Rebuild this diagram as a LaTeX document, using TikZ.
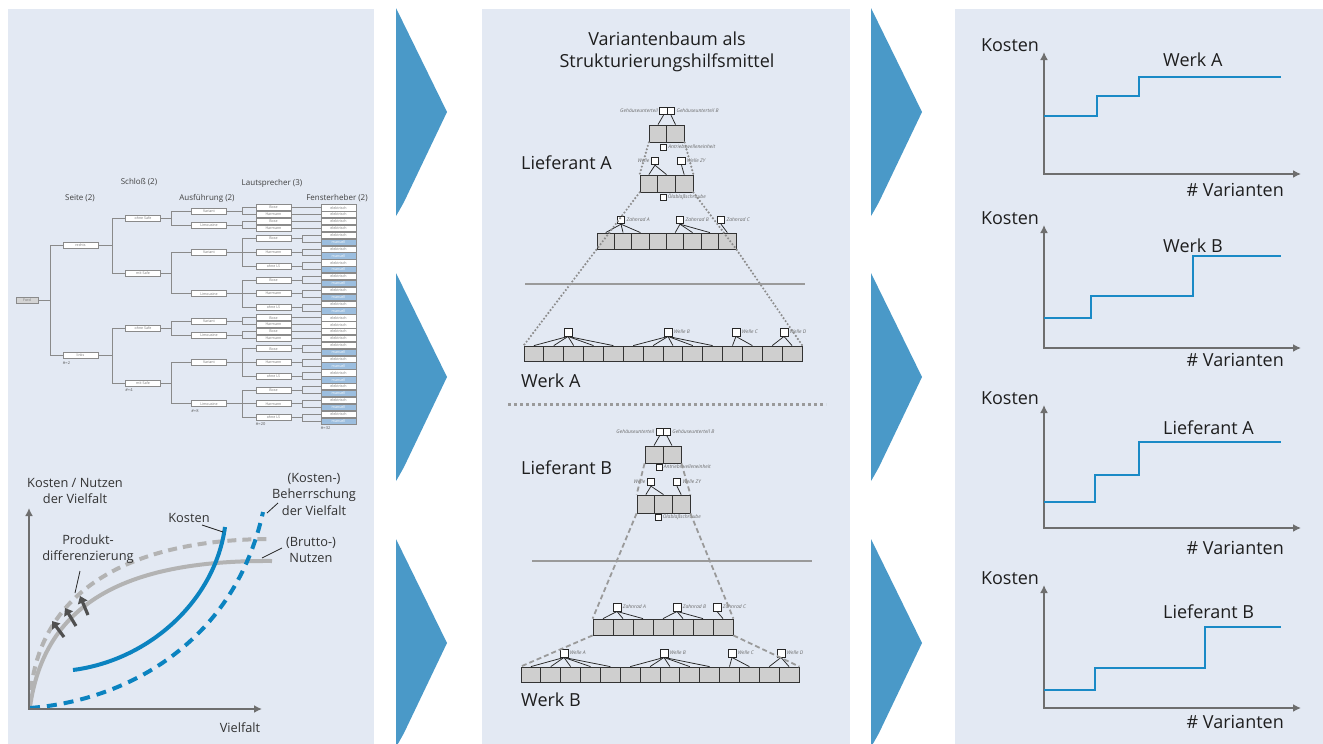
\documentclass[tikz,border=0pt]{standalone}
\usepackage{fontspec}
\setmainfont{Open Sans}
\usetikzlibrary{arrows.meta}
\definecolor{panel}{HTML}{E3E9F3}
\definecolor{arrowblue}{HTML}{4A99C8}
\definecolor{lineblue}{HTML}{1A8AC6}
\definecolor{curveblue}{HTML}{0B83C0}
\definecolor{axisgray}{HTML}{6E6E6E}
\definecolor{lightcurve}{HTML}{B3B3B3}
\definecolor{treeline}{HTML}{8A8A8A}
\definecolor{treetext}{HTML}{767676}
\definecolor{manuellc}{HTML}{9CBEDF}
\definecolor{fordgray}{HTML}{D4D4D4}
\definecolor{boxgray}{HTML}{CFCFCF}
\definecolor{sepgray}{HTML}{9A9A9A}
\definecolor{dotgray}{HTML}{8C8C8C}
\definecolor{txt}{HTML}{1E1E1E}
\definecolor{lbltxt}{HTML}{6A6A6A}
\definecolor{arrowdark}{HTML}{505050}
\newcommand{\rowY}[1]{207.7+(#1-1)*6.88}
\begin{document}
\begin{tikzpicture}[x=1pt,y=-1pt,
  tb/.style={draw=treeline, fill=white, line width=0.6pt, minimum width=35pt, minimum height=6pt, inner sep=0pt, font=\fontsize{3.6}{4}\selectfont, text=treetext},
  fhE/.style={tb, minimum height=6.3pt},
  fhM/.style={tb, fill=manuellc, text=white, minimum height=6.3pt},
  tl/.style={draw=treeline, line width=0.8pt},
  hdr/.style={font=\fontsize{8}{9}\selectfont, text=black!75, inner sep=0pt},
  cnt/.style={font=\fontsize{4}{5}\selectfont, text=black!65, inner sep=0pt, anchor=north west},
  big/.style={font=\fontsize{18}{21.5}\selectfont, text=txt, inner sep=0pt},
  gtxt/.style={font=\fontsize{12.8}{16.5}\selectfont, text=black!80, inner sep=0pt, align=center},
  sbox/.style={draw=black!85, fill=white, line width=0.9pt, minimum size=7.5pt, inner sep=0pt},
  mbox/.style={sbox, minimum size=6pt},
  gbox/.style={draw=black!80, fill=boxgray, line width=0.8pt, inner sep=0pt},
  lbl/.style={font=\fontsize{5}{6}\selectfont\itshape, text=lbltxt, inner sep=1.2pt},
  fan/.style={draw=black!85, line width=0.75pt},
  dotline/.style={draw=dotgray, line width=2.4pt, dash pattern=on 0pt off 3.6pt, line cap=round},
  dashline/.style={draw=sepgray, line width=1.8pt, dash pattern=on 5pt off 3pt},
  sepline/.style={draw=sepgray, line width=2pt},
  ax/.style={draw=axisgray, line width=2.6pt, {Latex[length=8pt,width=8pt]}-{Latex[length=8pt,width=8pt]}},
  stepline/.style={draw=lineblue, line width=2.4pt},
  leader/.style={draw=black!85, line width=0.8pt},
  push/.style={draw=arrowdark, line width=3.2pt, -{Triangle[length=7pt,width=10pt]}},
]
\useasboundingbox (0,0) rectangle (1323,744);
\fill[white] (0,0) rectangle (1323,744);
% panels
\fill[panel] (8,9) rectangle (374,744);
\fill[panel] (482,9) rectangle (850,744);
\fill[panel] (955,9) rectangle (1323,744);
% big arrows
\foreach \ax in {396,871}{
  \foreach \ay in {8,273,539}{
    \fill[arrowblue] (\ax,\ay) -- ({\ax+51},{\ay+104}) -- ({\ax+8},{\ay+194}) .. controls ({\ax+3},{\ay+203}) .. (\ax,{\ay+208}) -- cycle;
  }
}
% ================= tree (left panel) =================
\node[hdr] (hSeite) at (80,198) {Seite (2)};
\node[hdr] (hSchloss) at (139,182) {Schloß (2)};
\node[hdr] (hAusf) at (207,198) {Ausführung (2)};
\node[hdr] (hLaut) at (272,183) {Lautsprecher (3)};
\node[hdr] (hFenster) at (337,198) {Fensterheber (2)};
\foreach \s/\sn in {0/rechts,1/links}{
  \pgfmathtruncatemacro\off{16*\s}
  \foreach \r in {1,...,16}{
    \pgfmathtruncatemacro\isM{(\r>4)&&(mod(\r,2)==0)}
    \ifnum\isM=1
      \node[fhM] (fh\s-\r) at (338.5,{\rowY{\r+\off}}) {manuell};
    \else
      \node[fhE] (fh\s-\r) at (338.5,{\rowY{\r+\off}}) {elektrisch};
    \fi
  }
  \foreach \j/\nm in {1/Bose,2/Harmann,3/Bose,4/Harmann}{
    \node[tb] (ls\s-\j) at (273.5,{\rowY{\j+\off}}) {\nm};
    \draw[tl] (ls\s-\j) -- (fh\s-\j);
  }
  \foreach \j/\nm in {5/Bose,6/Harmann,7/ohne LS,8/Bose,9/Harmann,10/ohne LS}{
    \pgfmathtruncatemacro\ra{2*\j-5}
    \pgfmathtruncatemacro\rb{2*\j-4}
    \node[tb] (ls\s-\j) at (273.5,{\rowY{\j*2-4.5+\off}}) {\nm};
    \draw[tl] (ls\s-\j.east) -- ++(11,0) |- (fh\s-\ra.west);
    \draw[tl] (ls\s-\j.east) -- ++(11,0) |- (fh\s-\rb.west);
  }
  \node[tb] (a\s-1) at (209,{\rowY{1.5+\off}}) {Variant};
  \node[tb] (a\s-2) at (209,{\rowY{3.5+\off}}) {Limousine};
  \node[tb] (a\s-3) at (209,{\rowY{7.5+\off}}) {Variant};
  \node[tb] (a\s-4) at (209,{\rowY{13.5+\off}}) {Limousine};
  \foreach \p/\c in {1/1,1/2,2/3,2/4,3/5,3/6,3/7,4/8,4/9,4/10}
    \draw[tl] (a\s-\p.east) -- ++(16,0) |- (ls\s-\c.west);
  \node[tb] (sch\s-1) at (143,{\rowY{2.5+\off}}) {ohne Safe};
  \node[tb] (sch\s-2) at (143,{\rowY{10.5+\off}}) {mit Safe};
  \foreach \p/\c in {1/1,1/2,2/3,2/4}
    \draw[tl] (sch\s-\p.east) -- ++(11,0) |- (a\s-\c.west);
  \node[tb] (side\s) at (80.5,{\rowY{6.5+\off}}) {\sn};
  \foreach \c in {1,2} \draw[tl] (side\s.east) -- ++(14,0) |- (sch\s-\c.west);
}
\node[tb, fill=fordgray, minimum width=22pt] (ford) at (27,{\rowY{14.5}}) {Ford};
\draw[tl] (ford.east) -- ++(12,0) |- (side0.west);
\draw[tl] (ford.east) -- ++(12,0) |- (side1.west);
\node[cnt] (c2) at ([yshift=-2pt]side1.south west) {\#=2};
\node[cnt] (c4) at ([yshift=-2pt]sch1-2.south west) {\#=4};
\node[cnt] (c8) at ([yshift=-2pt]a1-4.south west) {\#=8};
\node[cnt] (c20) at ([yshift=-2pt]ls1-10.south west) {\#=20};
\node[cnt] (c32) at ([yshift=-2pt]fh1-16.south west) {\#=32};
% ================= bottom-left graph =================
\draw[lightcurve, line width=4pt] (30,707) .. controls (45,600) and (130,560) .. (272,561);
\draw[lightcurve, line width=4pt, dash pattern=on 9pt off 6pt] (31,690) .. controls (42,590) and (130,540) .. (268,539);
\draw[curveblue, line width=4pt] (73,670) .. controls (150,660) and (215,600) .. (225,527);
\draw[curveblue, line width=4pt, dash pattern=on 10pt off 7pt] (30,708) .. controls (130,700) and (235,640) .. (263,512);
\draw[ax] (29,508) -- (29,709) -- (262,709);
\coordinate (p1a) at (64,637); \coordinate (p1b) at (52,621);
\coordinate (p2a) at (76,626); \coordinate (p2b) at (65,608);
\coordinate (p3a) at (88,615); \coordinate (p3b) at (80,596);
\draw[push] (p1a) -- (p1b);
\draw[push] (p2a) -- (p2b);
\draw[push] (p3a) -- (p3b);
\node[gtxt] (gY) at (75,491) {Kosten / Nutzen\\der Vielfalt};
\node[gtxt] (gProd) at (88,549) {Produkt-\\differenzierung};
\node[gtxt] (gKosten) at (189,518) {Kosten};
\node[gtxt] (gBeh) at (314,494) {(Kosten-)\\Beherrschung\\der Vielfalt};
\node[gtxt] (gBrutto) at (311,550) {(Brutto-)\\Nutzen};
\node[gtxt] (gX) at (240,728) {Vielfalt};
\coordinate (lp1) at (80,571); \coordinate (lp2) at (75,593);
\draw[leader] (lp1) -- (lp2);
\coordinate (lk1) at (202,525); \coordinate (lk2) at (223,532);
\draw[leader] (lk1) -- (lk2);
\coordinate (lb1) at (278,503); \coordinate (lb2) at (267,513);
\draw[leader] (lb1) -- (lb2);
\coordinate (ln1) at (282,548); \coordinate (ln2) at (262,558);
\draw[leader] (ln1) -- (ln2);
% ================= middle panel =================
\node[big, align=center] (title) at (667,52) {Variantenbaum als\\Strukturierungshilfsmittel};
\node[big, anchor=west] (tLA) at (521,163) {Lieferant A};
\node[big, anchor=west] (tWA) at (521,381) {Werk A};
\node[big, anchor=west] (tLB) at (521,468) {Lieferant B};
\node[big, anchor=west] (tWB) at (521,700) {Werk B};
% --- Lieferant A ---
\node[sbox] (lat1) at (663.5,111) {};
\node[sbox] (lat2) at (671,111) {};
\node[lbl, anchor=east] (lat1l) at (lat1.west) {Gehäuseunterteil};
\node[lbl, anchor=west] (lat2l) at (lat2.east) {Gehäuseunterteil B};
\node[gbox, minimum width=17.5pt, minimum height=17pt] (lar1a) at (658,133.5) {};
\node[gbox, minimum width=17.5pt, minimum height=17pt] (lar1b) at (675.5,133.5) {};
\draw[fan] (lat1.south) -- (lar1a.north);
\draw[fan] (lat2.south) -- (lar1b.north);
\node[mbox] (lam1) at (663.5,147) {};
\node[lbl, anchor=west] (lam1l) at (lam1.east) {Antriebswelleneinheit};
\node[sbox] (law1) at (655,161) {};
\node[sbox] (law2) at (681.5,161) {};
\node[lbl, anchor=east] (law1l) at (law1.west) {Welle};
\node[lbl, anchor=west] (law2l) at (law2.east) {Welle ZY};
\foreach \i in {1,2,3}
  \node[gbox, minimum width=17.67pt, minimum height=17pt] (lar2\i) at ({640+(\i-0.5)*17.67},183.5) {};
\draw[fan] (law1.south) -- (lar21.north);
\draw[fan] (law1.south) -- (lar22.north);
\draw[fan] (law2.south) -- (lar23.north);
\node[mbox] (lam2) at (663,197) {};
\node[lbl, anchor=west] (lam2l) at (lam2.east) {Ölablaßschraube};
\node[sbox] (laz1) at (621,220) {};
\node[sbox] (laz2) at (680,220) {};
\node[sbox] (laz3) at (721,220) {};
\node[lbl, anchor=west] (laz1l) at (laz1.east) {Zahnrad A};
\node[lbl, anchor=west] (laz2l) at (laz2.east) {Zahnrad B};
\node[lbl, anchor=west] (laz3l) at (laz3.east) {Zahnrad C};
\foreach \i in {1,...,8}
  \node[gbox, minimum width=17.375pt, minimum height=16pt] (lar3\i) at ({597+(\i-0.5)*17.375},241) {};
\foreach \i in {1,2,3} \draw[fan] (laz1.south) -- (lar3\i.north);
\foreach \i in {5,6,7} \draw[fan] (laz2.south) -- (lar3\i.north);
\draw[fan] (laz3.south) -- (lar38.north);
% --- Werk A ---
\node[sbox, minimum size=8pt] (was1) at (568,332) {};
\node[sbox, minimum size=8pt] (was2) at (668,332) {};
\node[sbox, minimum size=8pt] (was3) at (736,332) {};
\node[sbox, minimum size=8pt] (was4) at (784,332) {};
\node[lbl, anchor=west] (was2l) at (was2.east) {Welle B};
\node[lbl, anchor=west] (was3l) at (was3.east) {Welle C};
\node[lbl, anchor=west] (was4l) at (was4.east) {Welle D};
\foreach \i in {1,...,14}
  \node[gbox, minimum width=19.86pt, minimum height=15pt] (wa\i) at ({524+(\i-0.5)*19.857},353.5) {};
\foreach \i in {1,...,5} \draw[fan] (was1.south) -- (wa\i.north);
\foreach \i in {6,...,10} \draw[fan] (was2.south) -- (wa\i.north);
\foreach \i in {11,12} \draw[fan] (was3.south) -- (wa\i.north);
\foreach \i in {13,14} \draw[fan] (was4.south) -- (wa\i.north);
% dotted fan lines A
\draw[dotline] (lar1a.south west) -- (lar21.north west);
\draw[dotline] (lar1b.south east) -- (lar23.north east);
\draw[dotline] (lar21.south west) -- (lar31.south west) -- (wa1.north west);
\draw[dotline] (lar23.south east) -- (lar38.south east) -- (wa14.north east);
\coordinate (sepAl) at (525,284);
\coordinate (sepAr) at (805,284);
\draw[sepline] (sepAl) -- (sepAr);
% dotted separator
\coordinate (midl) at (508,404);
\coordinate (midr) at (826,404);
\draw[draw=sepgray, line width=3pt, dash pattern=on 3pt off 3pt] (midl) -- (midr);
% --- Lieferant B ---
\node[sbox, minimum size=7pt] (lbt1) at (659.5,432) {};
\node[sbox, minimum size=7pt] (lbt2) at (667,432) {};
\node[lbl, anchor=east] (lbt1l) at (lbt1.west) {Gehäuseunterteil};
\node[lbl, anchor=west] (lbt2l) at (lbt2.east) {Gehäuseunterteil B};
\node[gbox, minimum width=18pt, minimum height=17pt] (lbr1a) at (654,454.5) {};
\node[gbox, minimum width=18pt, minimum height=17pt] (lbr1b) at (672,454.5) {};
\draw[fan] (lbt1.south) -- (lbr1a.north);
\draw[fan] (lbt2.south) -- (lbr1b.north);
\node[mbox] (lbm1) at (659,467) {};
\node[lbl, anchor=west] (lbm1l) at (lbm1.east) {Antriebswelleneinheit};
\node[sbox] (lbw1) at (651,482) {};
\node[sbox] (lbw2) at (677,482) {};
\node[lbl, anchor=east] (lbw1l) at (lbw1.west) {Welle};
\node[lbl, anchor=west] (lbw2l) at (lbw2.east) {Welle ZY};
\foreach \i in {1,2,3}
  \node[gbox, minimum width=17.67pt, minimum height=18pt] (lbr2\i) at ({637+(\i-0.5)*17.67},504) {};
\draw[fan] (lbw1.south) -- (lbr21.north);
\draw[fan] (lbw1.south) -- (lbr22.north);
\draw[fan] (lbw2.south) -- (lbr23.north);
\node[mbox] (lbm2) at (658,517) {};
\node[lbl, anchor=west] (lbm2l) at (lbm2.east) {Ölablaßschraube};
\node[sbox, minimum size=8pt] (lbz1) at (617,607) {};
\node[sbox, minimum size=8pt] (lbz2) at (677,607) {};
\node[sbox, minimum size=8pt] (lbz3) at (717,607) {};
\node[lbl, anchor=west] (lbz1l) at (lbz1.east) {Zahnrad A};
\node[lbl, anchor=west] (lbz2l) at (lbz2.east) {Zahnrad B};
\node[lbl, anchor=west] (lbz3l) at (lbz3.east) {Zahnrad C};
\foreach \i in {1,...,7}
  \node[gbox, minimum width=20pt, minimum height=16pt] (lbr3\i) at ({593+(\i-0.5)*20},627) {};
\foreach \i in {1,2,3} \draw[fan] (lbz1.south) -- (lbr3\i.north);
\foreach \i in {4,5,6} \draw[fan] (lbz2.south) -- (lbr3\i.north);
\draw[fan] (lbz3.south) -- (lbr37.north);
% --- Werk B ---
\node[sbox, minimum size=8pt] (wbs1) at (564,653) {};
\node[sbox, minimum size=8pt] (wbs2) at (664,653) {};
\node[sbox, minimum size=8pt] (wbs3) at (732,653) {};
\node[sbox, minimum size=8pt] (wbs4) at (781,653) {};
\node[lbl, anchor=west] (wbs1l) at (wbs1.east) {Welle A};
\node[lbl, anchor=west] (wbs2l) at (wbs2.east) {Welle B};
\node[lbl, anchor=west] (wbs3l) at (wbs3.east) {Welle C};
\node[lbl, anchor=west] (wbs4l) at (wbs4.east) {Welle D};
\foreach \i in {1,...,14}
  \node[gbox, minimum width=19.86pt, minimum height=15pt] (wb\i) at ({521+(\i-0.5)*19.857},674.5) {};
\foreach \i in {1,...,5} \draw[fan] (wbs1.south) -- (wb\i.north);
\foreach \i in {6,...,10} \draw[fan] (wbs2.south) -- (wb\i.north);
\foreach \i in {11,12} \draw[fan] (wbs3.south) -- (wb\i.north);
\foreach \i in {13,14} \draw[fan] (wbs4.south) -- (wb\i.north);
% dashed fan lines B
\draw[dashline] (lbr1a.south west) -- (lbr21.north west);
\draw[dashline] (lbr1b.south east) -- (lbr23.north east);
\draw[dashline] (lbr21.south west) -- (lbr31.north west);
\draw[dashline] (lbr23.south east) -- (lbr37.north east);
\draw[dashline] (lbr31.south west) -- (wb1.north west);
\draw[dashline] (lbr37.south east) -- (wb14.north east);
\coordinate (sepBl) at (532,561);
\coordinate (sepBr) at (812,561);
\draw[sepline] (sepBl) -- (sepBr);
% ================= right charts =================
\foreach \n/\o/\t/\ya/\xa/\yb/\xb/\yc/\lab/\ly/\vy/\ky in {
  1/174/52/116/1097/96/1139/77/Werk A/60/190/45,
  2/348/225/318/1091/296/1193/256/Werk B/246/360/218,
  3/528/405/502/1095/475/1139/442/Lieferant A/428/548/398,
  4/708/585/690/1095/668/1205/627/Lieferant B/612/722/578}{
  \coordinate (ch\n o) at (1044,\o);
  \coordinate (ch\n y) at (1044,\t);
  \coordinate (ch\n x) at (1301,\o);
  \draw[ax] (ch\n y) -- (ch\n o) -- (ch\n x);
  \draw[stepline] (1044,\ya) -- (\xa,\ya) -- (\xa,\yb) -- (\xb,\yb) -- (\xb,\yc) -- (1281,\yc);
  \node[big] (ch\n k) at (1010,\ky) {Kosten};
  \node[big, anchor=west] (ch\n s) at (1163,\ly) {\lab};
  \node[big, anchor=east] (ch\n v) at (1284,\vy) {\# Varianten};
}
\end{tikzpicture}
\end{document}
